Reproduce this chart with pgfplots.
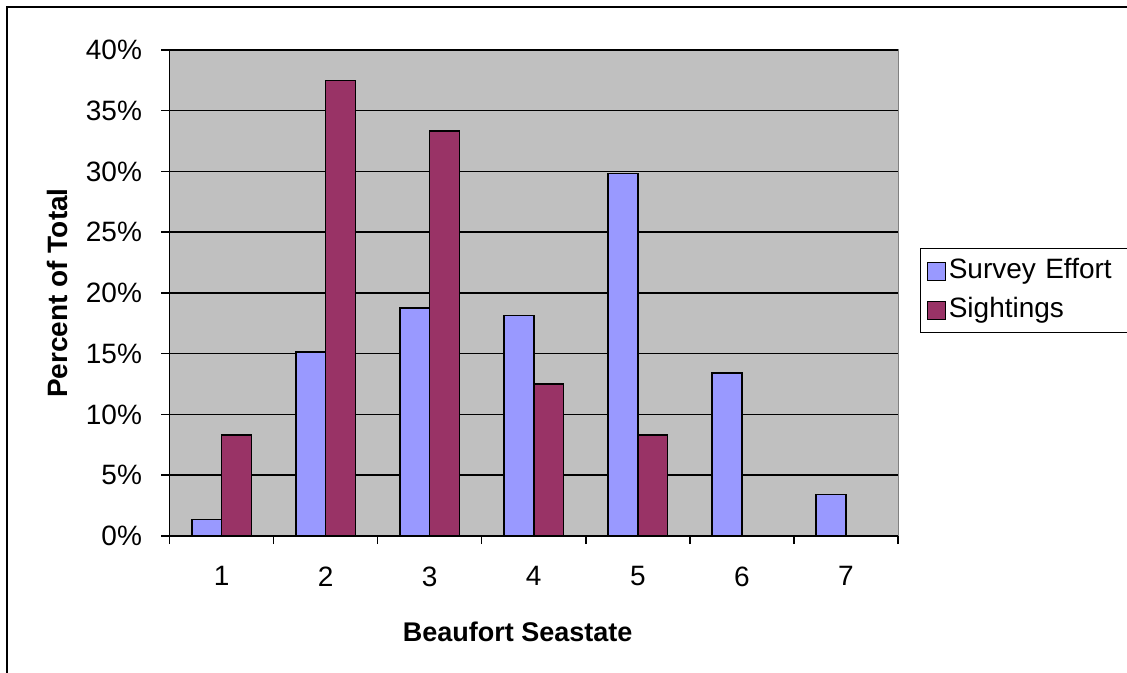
\documentclass[border=0pt]{standalone}
\usepackage{fontspec}
\setmainfont{Liberation Sans}
\usepackage{pgfplots}
\pgfplotsset{compat=1.18}

\definecolor{effort}{RGB}{153,153,255}
\definecolor{sight}{RGB}{153,51,102}
\definecolor{plotbg}{RGB}{192,192,192}
\definecolor{frameg}{RGB}{128,128,128}

\newcommand\chartfont{\fontsize{28}{33}\selectfont}
\newcommand\chartbold{\fontsize{27}{32}\selectfont\bfseries}

% Share of survey effort and of sightings per Beaufort sea state (percent)
\pgfplotstableread{
x effort
1 1.37
2 15.14
3 18.77
4 18.16
5 29.85
6 13.40
7 3.43
}\efforttable
\pgfplotstableread{
x sightings
1 8.33
2 37.50
3 33.33
4 12.50
5 8.33
}\sighttable

\begin{document}
\begin{tikzpicture}
\path[use as bounding box] (0pt,0pt) rectangle (1127pt,672pt);
\clip (0pt,0pt) rectangle (1127pt,672pt);
\fill[white] (0pt,0pt) rectangle (1127pt,672pt);
% chart area frame
\draw[line width=1.5pt] (7pt,-20pt) rectangle (1160pt,665pt);
\begin{axis}[
  at={(169.5pt,136pt)}, anchor=south west,
  scale only axis, width=728.5pt, height=486pt,
  xmin=0.5, xmax=7.5, ymin=0, ymax=40,
  ybar=0pt, bar width=0.2857,
  axis background/.style={fill=plotbg, draw=frameg, line width=1pt},
  axis lines*=left,
  axis line style={line width=1.5pt, black, -},
  tick align=outside,
  tick style={black, line width=1.5pt},
  ytick={0,5,...,40},
  yticklabel={\pgfmathprintnumber{\tick}\%},
  major tick length=8pt,
  xtick={0.5,1.5,...,7.5},
  x tick label as interval,
  xticklabels={1,2,3,4,5,6,7},
  ymajorgrids,
  grid style={black, line width=1.5pt},
  /pgf/number format/assume math mode=true,
  tick label style={font=\chartfont},
  yticklabel style={xshift=-16pt},
  xticklabel style={yshift=-19pt},
  xlabel={Beaufort Seastate},
  ylabel={Percent of Total},
  xlabel style={font=\chartbold, at={(axis description cs:0.478,-0.1975)}, anchor=center},
  ylabel style={font=\fontsize{28}{33}\selectfont\bfseries, at={(axis description cs:-0.154,0.5)}, anchor=center},
  legend style={at={(axis description cs:1.030,0.5926)}, anchor=north west,
    draw=black, line width=1.5pt, fill=white, font=\chartfont,
    inner sep=6pt, row sep=6pt,
    nodes={inner sep=3pt, text height=20.5pt, text depth=6.5pt, text width=180pt}},
  legend cell align=left,
]
\addplot[fill=effort, draw=black, line width=1.5pt,
  legend image code/.code={\draw[fill=effort, draw=black, line width=1.2pt] (0pt,-9pt) rectangle (18pt,9pt);}]
  table[x=x, y=effort] {\efforttable};
\addplot[fill=sight, draw=black, line width=1.5pt,
  legend image code/.code={\draw[fill=sight, draw=black, line width=1.2pt] (0pt,-9pt) rectangle (18pt,9pt);}]
  table[x=x, y=sightings] {\sighttable};
\legend{Survey Effort, Sightings}
\end{axis}
\end{tikzpicture}
\end{document}
